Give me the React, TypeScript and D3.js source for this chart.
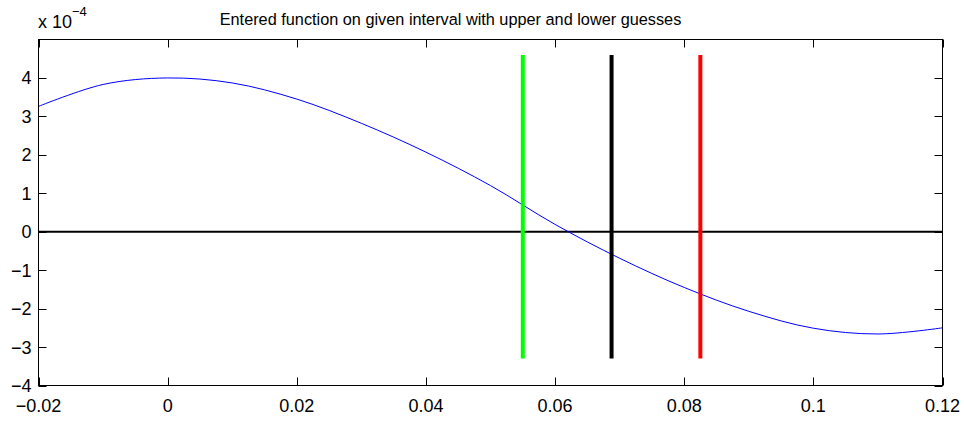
import React, { useEffect, useRef } from 'react';
import * as d3 from 'd3';

// curve (y in units of 1e-4)
const fx = [-0.02, -0.01, 0, 0.01, 0.02, 0.03, 0.04, 0.05, 0.06, 0.07, 0.08, 0.09, 0.1, 0.11, 0.12];
const fy = [3.26, 3.83, 4.0, 3.87, 3.45, 2.82, 2.07, 1.2, 0.19, -0.69, -1.45, -2.07, -2.51, -2.66, -2.5];

// guesses: lower, midpoint, upper
const guessX = [0.055, 0.06875, 0.0825];
const guessColor = ['#00ff00', '#000000', '#ff0000'];
const guessSpan = [-3.3, 4.6];

const xTicks = [-0.02, 0, 0.02, 0.04, 0.06, 0.08, 0.1, 0.12];
const xLabels = ['\u22120.02', '0', '0.02', '0.04', '0.06', '0.08', '0.1', '0.12'];
const yTicks = [-4, -3, -2, -1, 0, 1, 2, 3, 4];
const yLabels = ['\u22124', '\u22123', '\u22122', '\u22121', '0', '1', '2', '3', '4'];

const title = 'Entered function on given interval with upper and lower guesses';

const App: React.FC = () => {
    const svgRef = useRef<SVGSVGElement>(null);

    useEffect(() => {
        if (!svgRef.current) return;
        const width = 964;
        const height = 421;
        const left = 38.5, right = 942.5, top = 39.5, bottom = 385.5;
        const font = '"Liberation Sans", Arial, Helvetica, sans-serif';

        const svg = d3.select(svgRef.current);
        svg.selectAll('*').remove();
        svg.attr('width', width).attr('height', height);

        const x = d3.scaleLinear().domain([-0.02, 0.12]).range([left, right]);
        const y = d3.scaleLinear().domain([-4, 5]).range([bottom, top]);

        svg.append('rect').attr('width', width).attr('height', height).attr('fill', '#fff');

        const g = svg.append('g');

        // zero line
        g.append('line')
            .attr('x1', left).attr('x2', right)
            .attr('y1', y(0)).attr('y2', y(0))
            .attr('stroke', '#000').attr('stroke-width', 2);

        // function curve
        const pts = fx.map((v, i) => [v, fy[i]] as [number, number]);
        const line = d3.line<[number, number]>()
            .x(d => x(d[0]))
            .y(d => y(d[1]))
            .curve(d3.curveCatmullRom.alpha(0.5));
        g.append('path')
            .attr('d', line(pts))
            .attr('fill', 'none')
            .attr('stroke', '#0000ff')
            .attr('stroke-width', 1);

        // guesses
        guessX.forEach((gx, i) => {
            g.append('line')
                .attr('x1', x(gx)).attr('x2', x(gx))
                .attr('y1', y(guessSpan[0])).attr('y2', y(guessSpan[1]))
                .attr('stroke', guessColor[i]).attr('stroke-width', 4);
        });

        // box
        svg.append('rect')
            .attr('x', left).attr('y', top)
            .attr('width', right - left).attr('height', bottom - top)
            .attr('fill', 'none').attr('stroke', '#000').attr('stroke-width', 1);

        const tl = 8;
        xTicks.forEach((t, i) => {
            const px = Math.round(x(t)) + 0.5;
            svg.append('line').attr('x1', px).attr('x2', px).attr('y1', bottom).attr('y2', bottom - tl)
                .attr('stroke', '#000');
            svg.append('line').attr('x1', px).attr('x2', px).attr('y1', top).attr('y2', top + tl)
                .attr('stroke', '#000');
            svg.append('text')
                .attr('x', x(t)).attr('y', bottom + 26)
                .attr('text-anchor', 'middle')
                .style('font-family', font).style('font-size', '18px')
                .text(xLabels[i]);
        });

        yTicks.forEach((t, i) => {
            const py = Math.round(y(t)) + 0.5;
            svg.append('line').attr('x1', left).attr('x2', left + tl).attr('y1', py).attr('y2', py)
                .attr('stroke', '#000');
            svg.append('line').attr('x1', right).attr('x2', right - tl).attr('y1', py).attr('y2', py)
                .attr('stroke', '#000');
            svg.append('text')
                .attr('x', left - 7).attr('y', y(t))
                .attr('dy', '0.36em')
                .attr('text-anchor', 'end')
                .style('font-family', font).style('font-size', '18px')
                .text(yLabels[i]);
        });

        // exponent label
        const ex = svg.append('text')
            .attr('x', 38).attr('y', 28)
            .style('font-family', font).style('font-size', '18px');
        ex.append('tspan').text('x 10');
        ex.append('tspan').attr('dy', -12).style('font-size', '13px').text('\u22124');

        svg.append('text')
            .attr('x', 450.5).attr('y', 25)
            .attr('text-anchor', 'middle')
            .style('font-family', font).style('font-size', '16.3px')
            .text(title);
    }, []);

    return (
        <svg ref={svgRef} style={{ position: 'absolute', left: 0, top: 0 }}></svg>
    );
};

export default App;
